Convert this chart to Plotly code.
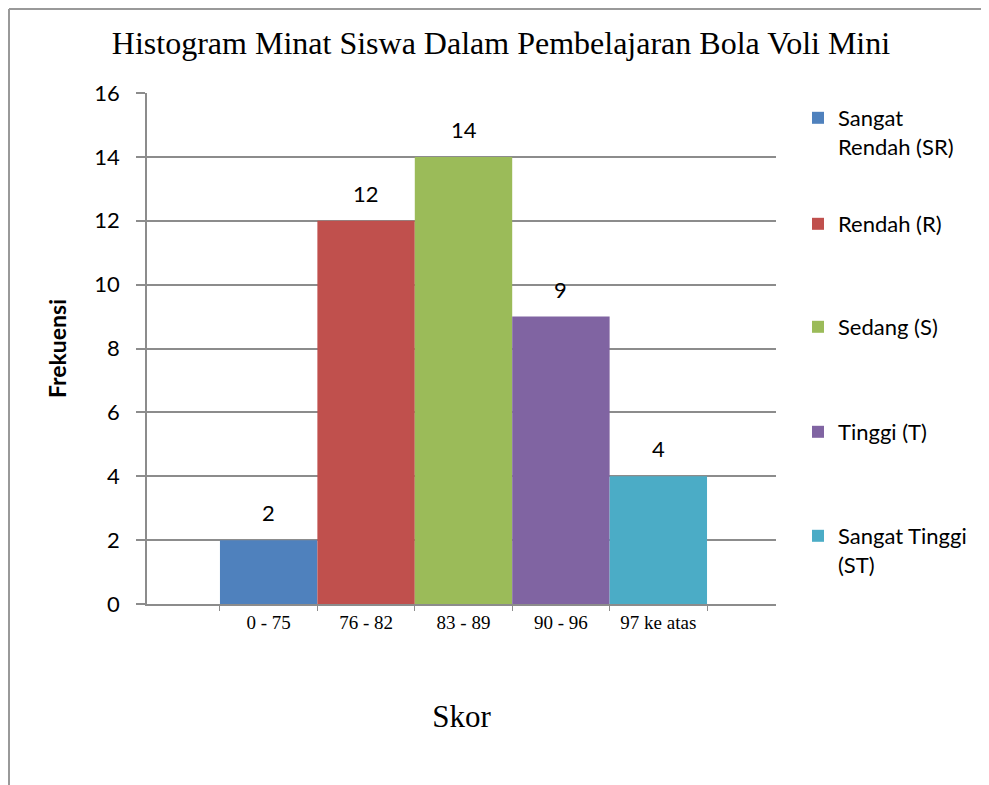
import plotly.graph_objects as go

# ---- data ----
categories = ["0 - 75", "76 - 82", "83 - 89", "90 - 96", "97 ke atas"]
series_names = ["Sangat<br>Rendah (SR)", "Rendah (R)", "Sedang (S)", "Tinggi (T)", "Sangat Tinggi<br>(ST)"]
frequencies = [2, 12, 14, 9, 4]
colors = ["#4F81BD", "#C0504D", "#9BBB59", "#8064A2", "#4BACC6"]

OFF = 8  # page body margin
W, H = 989 - OFF, 785 - OFF
# plot area in reference pixel coordinates
RL, RR, RT, RB = 147, 776, 93, 604
L, R, T, B = RL - OFF, RR - OFF, RT - OFF, RB - OFF


def px_x(px):
    return (px - RL) / (RR - RL)


def px_y(py):
    return (RB - py) / (RB - RT)


SANS = "Lato, Calibri, sans-serif"
SERIF = "Liberation Serif, Times New Roman, serif"

fig = go.Figure()
legend_names = ["legend", "legend2", "legend3", "legend4", "legend5"]
for i, (name, val, col) in enumerate(zip(series_names, frequencies, colors)):
    fig.add_trace(go.Bar(
        x=[i], y=[val], name=name, width=1,
        marker=dict(color=col, line=dict(width=0)),
        legend=legend_names[i], showlegend=True,
        hovertemplate=categories[i] + ": %{y}<extra></extra>",
    ))

annotations = []
for i, val in enumerate(frequencies):
    annotations.append(dict(
        x=i, y=val, xref="x", yref="y", text=str(val), showarrow=False,
        yanchor="bottom", yshift=12, font=dict(family=SANS, size=22, color="#000"),
    ))

legend_targets = [97, 203, 306, 411, 515]
layout_legends = {}
for i, ln in enumerate(legend_names):
    layout_legends[ln] = dict(
        x=px_x(798), y=px_y(legend_targets[i]), xanchor="left", yanchor="top",
        valign="top", bgcolor="rgba(0,0,0,0)",
        font=dict(family=SANS, size=22, color="#000"),
    )

fig.update_layout(
    width=W, height=H,
    margin=dict(l=L, r=W - R, t=T, b=H - B, pad=0),
    paper_bgcolor="white", plot_bgcolor="white",
    barmode="overlay", showlegend=True,
    title=dict(
        text="Histogram Minat Siswa Dalam Pembelajaran Bola Voli Mini",
        x=(501 - OFF) / W, y=1 - (43 - OFF) / H, xanchor="center", yanchor="middle",
        font=dict(family=SERIF, size=32, color="#000"),
    ),
    xaxis=dict(
        range=[-1.249, 5.208],
        tickmode="array", tickvals=list(range(len(categories))), ticktext=categories,
        tickfont=dict(family=SERIF, size=19, color="#000"),
        ticks="", showgrid=False, zeroline=False,
        showline=True, linecolor="#8c8c8c", linewidth=1.5,
        minor=dict(tickmode="array", tickvals=[i - 0.5 for i in range(len(categories) + 1)],
                   ticks="outside", ticklen=5, tickcolor="#8c8c8c", showgrid=False),
        title=dict(text="Skor", font=dict(family=SERIF, size=31, color="#000"), standoff=74),
        fixedrange=True,
    ),
    yaxis=dict(
        range=[0, 16], tick0=0, dtick=2,
        tickfont=dict(family=SANS, size=22, color="#000"),
        ticks="outside", ticklen=9, tickcolor="#8c8c8c", tickwidth=1.5,
        ticklabelstandoff=12,
        showgrid=True, gridcolor="#8c8c8c", gridwidth=1.5,
        showline=True, linecolor="#8c8c8c", linewidth=1.5,
        zeroline=False,
        title=dict(text="<b>Frekuensi</b>", font=dict(family=SANS, size=23, color="#000"), standoff=21),
        fixedrange=True,
    ),
    annotations=annotations,
    shapes=[
        dict(type="line", xref="paper", yref="paper", x0=px_x(9), x1=px_x(1000),
             y0=px_y(OFF + 1), y1=px_y(OFF + 1),
             line=dict(color="#999999", width=2)),
        dict(type="line", xref="paper", yref="paper", x0=px_x(9), x1=px_x(9),
             y0=px_y(OFF + 1), y1=px_y(800),
             line=dict(color="#999999", width=2)),
    ],
    **layout_legends,
)

fig.write_html("out.html")
